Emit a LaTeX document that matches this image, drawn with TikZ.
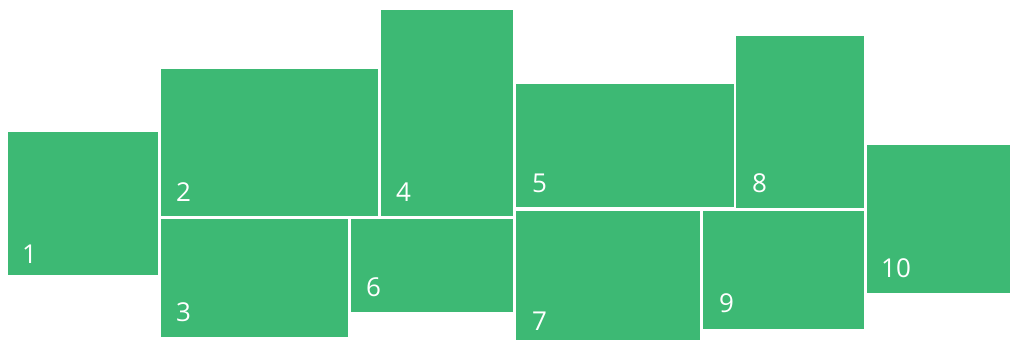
\documentclass[tikz,border=0pt]{standalone}
\usepackage{fontspec}
\setmainfont{Open Sans}
\definecolor{tile}{RGB}{61,185,116}
\begin{document}
\begin{tikzpicture}[x=1pt,y=-1pt,
  tilebox/.style={fill=tile,draw=none,anchor=north west,inner sep=0pt,outer sep=0pt},
  lbl/.style={text=white,anchor=base west,inner sep=0pt,font=\fontsize{26}{26}\selectfont}]
\useasboundingbox[fill=white] (0,0) rectangle (1010,340);
\node[tilebox,minimum width=150pt,minimum height=143pt] (b1) at (8,132) {};
\node[tilebox,minimum width=217pt,minimum height=147.5pt] (b2) at (161,68.5) {};
\node[tilebox,minimum width=187pt,minimum height=118pt] (b3) at (161,219) {};
\node[tilebox,minimum width=132pt,minimum height=206.5pt] (b4) at (381,9.5) {};
\node[tilebox,minimum width=217.5pt,minimum height=123pt] (b5) at (516,84) {};
\node[tilebox,minimum width=162pt,minimum height=92.5pt] (b6) at (351,219) {};
\node[tilebox,minimum width=183.5pt,minimum height=129.5pt] (b7) at (516,210.5) {};
\node[tilebox,minimum width=127.5pt,minimum height=171.5pt] (b8) at (736,36) {};
\node[tilebox,minimum width=161.5pt,minimum height=118.5pt] (b9) at (702.5,210.5) {};
\node[tilebox,minimum width=143.5pt,minimum height=147.5pt] (b10) at (866.5,145) {};
\node[lbl] (l1) at (22,263) {1};
\node[lbl] (l2) at (176,201.5) {2};
\node[lbl] (l3) at (176,321) {3};
\node[lbl] (l4) at (396,201.5) {4};
\node[lbl] (l5) at (532,192.5) {5};
\node[lbl] (l6) at (366,296.5) {6};
\node[lbl] (l7) at (532,330) {7};
\node[lbl] (l8) at (752,192.5) {8};
\node[lbl] (l9) at (719,312.5) {9};
\node[lbl] (l10) at (881,277.5) {10};
\end{tikzpicture}
\end{document}
